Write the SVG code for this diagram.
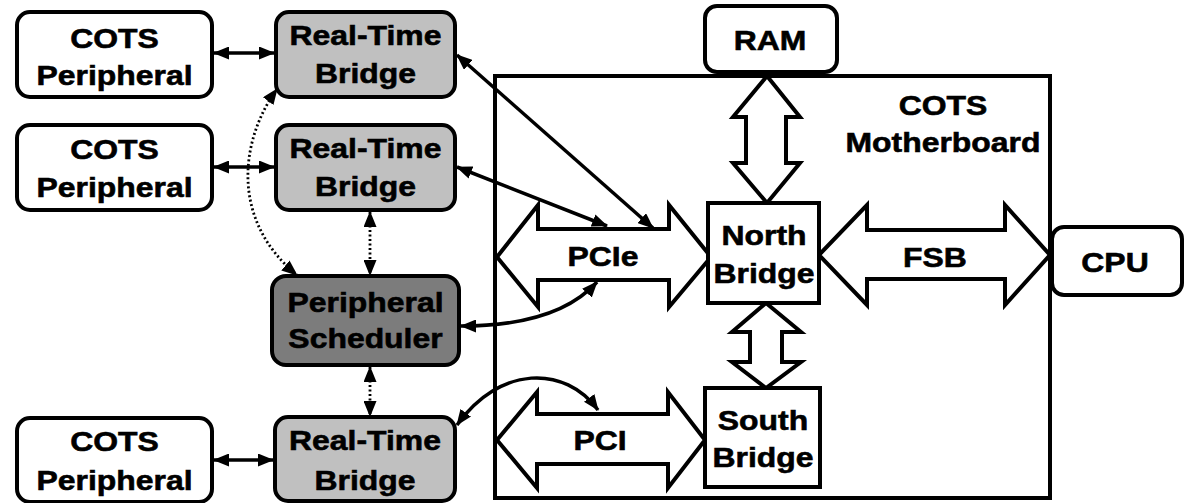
<svg xmlns="http://www.w3.org/2000/svg" width="1188" height="503" viewBox="0 0 1188 503">
<style>
.box{stroke:#000;stroke-width:4;}
.w{fill:#fff;}
.g{fill:#c0c0c0;}
.d{fill:#7c7c7c;}
.big{fill:#fff;stroke:#000;stroke-width:4;stroke-linejoin:miter;}
.t{font-family:"Liberation Sans",Arial,sans-serif;font-weight:bold;font-size:28.5px;text-anchor:middle;fill:#000;stroke:#000;stroke-width:0.6;}
.c{fill:none;stroke:#000;stroke-width:3.5;}
.dot{fill:none;stroke:#000;stroke-width:2.8;stroke-dasharray:2 2.5;}
</style>
<defs>
<marker id="ah" viewBox="0 0 16 13" refX="15" refY="6.5" markerWidth="16" markerHeight="13" markerUnits="userSpaceOnUse" orient="auto-start-reverse">
<path d="M0,0 L16,6.5 L0,13 z" fill="#000"/>
</marker>
</defs>
<rect width="1188" height="503" fill="#fff"/>

<g id="motherboard">
<rect x="495" y="76" width="555" height="422" fill="#fff" stroke="#000" stroke-width="4"/>
<text class="t" transform="translate(943,115) scale(1.12,1)">COTS</text>
<text class="t" transform="translate(943,152) scale(1.12,1)">Motherboard</text>
</g>

<g id="bus-ram">
<polygon class="big" points="767,76 800,117 786,117 786,163 800,163 767,203 733,163 746,163 746,117 733,117"/>
</g>
<g id="bus-nb-sb">
<polygon class="big" points="766,303 801,332 782,332 782,362 801,362 766,388 732,362 750,362 750,332 732,332"/>
</g>
<g id="bus-pcie">
<polygon class="big" points="497,257 538,205 538,229 669,229 669,205 711,257 669,307 669,280 538,280 538,307"/>
<text class="t" transform="translate(603,266) scale(1.12,1)">PCIe</text>
</g>
<g id="bus-pci">
<polygon class="big" points="497,440 537,392 537,414 668,414 668,392 705,440 668,488 668,464 537,464 537,488"/>
<text class="t" transform="translate(600,450) scale(1.12,1)">PCI</text>
</g>
<g id="bus-fsb">
<polygon class="big" points="819,255 867,205 867,230 1005,230 1005,205 1050,255 1005,305 1005,279 867,279 867,305"/>
<text class="t" transform="translate(935,267) scale(1.12,1)">FSB</text>
</g>

<g id="ram">
<rect class="box w" x="705" y="6" width="132" height="66" rx="12"/>
<text class="t" transform="translate(770,50) scale(1.12,1)">RAM</text>
</g>
<g id="cpu">
<rect class="box w" x="1052" y="227" width="130" height="68" rx="12"/>
<text class="t" transform="translate(1115,272) scale(1.12,1)">CPU</text>
</g>
<g id="north-bridge">
<rect class="box w" x="708" y="203" width="111" height="100"/>
<text class="t" transform="translate(764,245) scale(1.12,1)">North</text>
<text class="t" transform="translate(764,283) scale(1.12,1)">Bridge</text>
</g>
<g id="south-bridge">
<rect class="box w" x="705" y="388" width="115" height="99"/>
<text class="t" transform="translate(763,430) scale(1.12,1)">South</text>
<text class="t" transform="translate(763,467) scale(1.12,1)">Bridge</text>
</g>

<g id="cots1">
<rect class="box w" x="17" y="12" width="195" height="85" rx="13"/>
<text class="t" transform="translate(114.5,48) scale(1.12,1)">COTS</text>
<text class="t" transform="translate(114.5,85) scale(1.12,1)">Peripheral</text>
</g>
<g id="cots2">
<rect class="box w" x="17" y="125" width="195" height="85" rx="13"/>
<text class="t" transform="translate(114.5,159) scale(1.12,1)">COTS</text>
<text class="t" transform="translate(114.5,197) scale(1.12,1)">Peripheral</text>
</g>
<g id="cots3">
<rect class="box w" x="17" y="418" width="195" height="84" rx="13"/>
<text class="t" transform="translate(114.5,451) scale(1.12,1)">COTS</text>
<text class="t" transform="translate(114.5,490) scale(1.12,1)">Peripheral</text>
</g>
<g id="rtb1">
<rect class="box g" x="276" y="12" width="179" height="85" rx="13"/>
<text class="t" transform="translate(365.5,45) scale(1.12,1)">Real-Time</text>
<text class="t" transform="translate(365.5,83) scale(1.12,1)">Bridge</text>
</g>
<g id="rtb2">
<rect class="box g" x="276" y="125" width="179" height="85" rx="13"/>
<text class="t" transform="translate(365.5,158) scale(1.12,1)">Real-Time</text>
<text class="t" transform="translate(365.5,196) scale(1.12,1)">Bridge</text>
</g>
<g id="scheduler">
<rect class="box d" x="272" y="276" width="187" height="89" rx="14"/>
<text class="t" transform="translate(365.5,312) scale(1.12,1)">Peripheral</text>
<text class="t" transform="translate(365.5,348) scale(1.12,1)">Scheduler</text>
</g>
<g id="rtb3">
<rect class="box g" x="275" y="417" width="180" height="84" rx="13"/>
<text class="t" transform="translate(365,450) scale(1.12,1)">Real-Time</text>
<text class="t" transform="translate(365,490) scale(1.12,1)">Bridge</text>
</g>

<g id="connectors">
<path class="c" d="M214,53 L274,53" marker-start="url(#ah)" marker-end="url(#ah)"/>
<path class="c" d="M214,167 L274,167" marker-start="url(#ah)" marker-end="url(#ah)"/>
<path class="c" d="M214,460 L273,460" marker-start="url(#ah)" marker-end="url(#ah)"/>
<path class="c" d="M457,55 L653,228" marker-start="url(#ah)" marker-end="url(#ah)"/>
<path class="c" d="M457,167 L607,226" marker-start="url(#ah)" marker-end="url(#ah)"/>
<path class="c" d="M461,326 C525,326 570,312 597,282" marker-start="url(#ah)" marker-end="url(#ah)"/>
<path class="c" d="M457,425 C500,365 565,365 598,410" marker-start="url(#ah)" marker-end="url(#ah)"/>
<path class="dot" d="M277,89 C240,140 230,220 297,275" marker-start="url(#ah)" marker-end="url(#ah)"/>
<path class="dot" d="M370,212 L370,275" marker-start="url(#ah)" marker-end="url(#ah)"/>
<path class="dot" d="M370,367 L370,416" marker-start="url(#ah)" marker-end="url(#ah)"/>
</g>
</svg>
